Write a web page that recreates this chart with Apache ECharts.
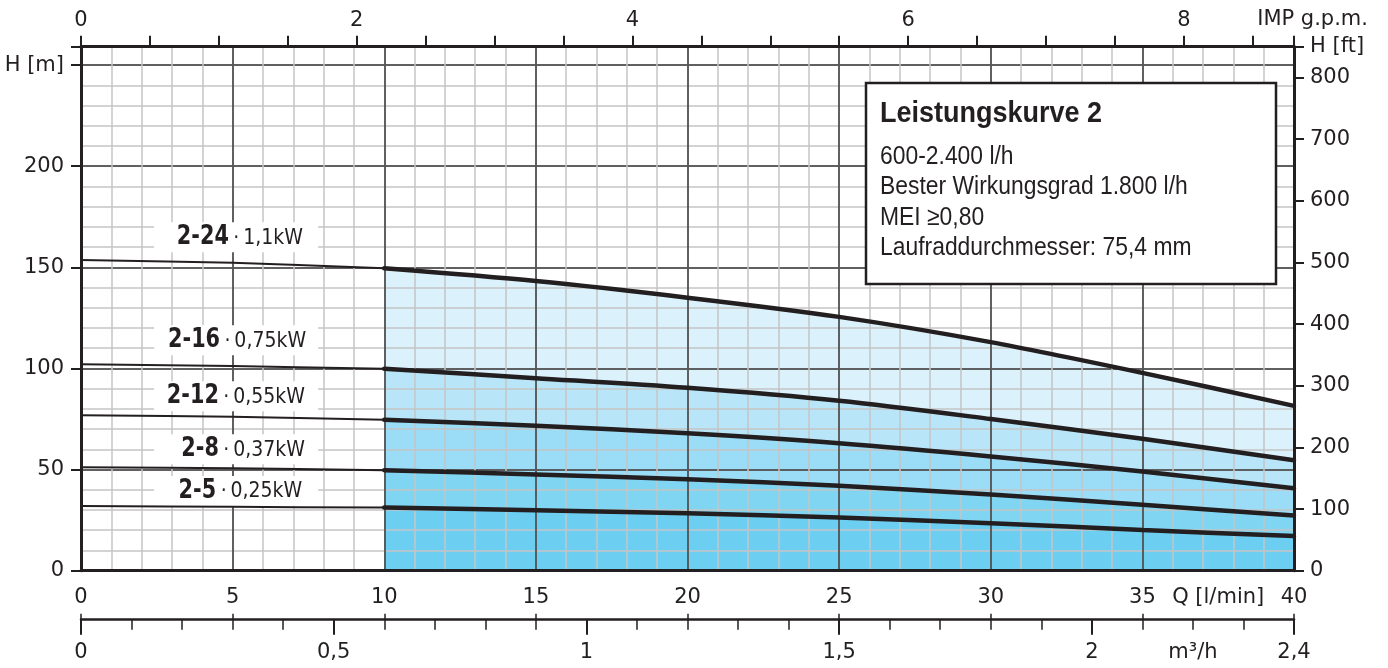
<!DOCTYPE html>
<html>
<head>
<meta charset="utf-8">
<script src="https://cdn.jsdelivr.net/npm/echarts@6/dist/echarts.min.js"></script>
<style>
  html, body { margin: 0; padding: 0; background: #ffffff; }
  #chart { width: 1388px; height: 668px; }
</style>
</head>
<body>
<div id="chart"></div>
<script>
// Flow rates Q [l/min] at which the heads are given
const flowQ = [0, 5, 10, 15, 20, 25, 30, 35, 40];

// Delivery head H [m] for each pump model
const head_2_24 = [153.6, 152.2, 149.5, 143.2, 135.0, 125.5, 113.0, 97.8, 81.5];
const head_2_16 = [102.1, 101.2, 99.8, 95.2, 90.4, 84.0, 75.0, 65.2, 54.6];
const head_2_12 = [76.9, 76.1, 74.6, 71.7, 67.9, 63.0, 56.5, 49.0, 40.8];
const head_2_8  = [51.1, 50.6, 49.7, 47.6, 45.2, 42.0, 37.7, 32.6, 27.3];
const head_2_5  = [32.0, 31.6, 31.2, 29.9, 28.4, 26.3, 23.5, 20.1, 17.1];

const models = ['2-24', '2-16', '2-12', '2-8', '2-5'];
const powers = ['1,1kW', '0,75kW', '0,55kW', '0,37kW', '0,25kW'];

// Working range starts here [l/min]
const workingRangeFrom = 10;

// Axis tick labels
const m3hTickValues = [0, 0.5, 1, 1.5, 2, 2.4];
const m3hTickLabels = ['0', '0,5', '1', '1,5', '2', '2,4'];
const m3hUnitAt = 2.2;
const m3hUnit = 'm³/h';
const qUnit = 'Q [l/min]';
const gpmUnit = 'IMP g.p.m.';
const headUnitM = 'H [m]';
const headUnitFt = 'H [ft]';

// Info box text
const infoTitle = 'Leistungskurve 2';
const infoLines = ['600-2.400 l/h', 'Bester Wirkungsgrad 1.800 l/h', 'MEI \u22650,80', 'Laufraddurchmesser: 75,4 mm'];

// Unit conversions
const M_PER_FT = 0.3048;
const LPM_PER_IMPGPM = 4.54609;
const LPM_PER_M3H = 1000 / 60;

const Q_MAX = 40;
const FT_MAX = 850;
const H_MAX = FT_MAX * M_PER_FT;

const heads = [head_2_24, head_2_16, head_2_12, head_2_8, head_2_5];
const bandColors = ['#dbf1fb', '#b8e5f7', '#9bdcf6', '#80d5f3', '#6ccff2'];

const INK = '#231f20';
const GRID_MINOR = '#c4c4c4';
const GRID_MAJOR = '#3a3a3a';
const AXIS_FONT = 'DejaVu Sans';
const AXIS_FONT_SIZE = 21;

// Where the model captions sit (Q of the separating dot, H of the text centre)
const captionAnchors = [
  { q: 5.14, h: 164.9 },
  { q: 4.85, h: 114.0 },
  { q: 4.81, h: 86.2 },
  { q: 4.81, h: 60.0 },
  { q: 4.72, h: 39.4 }
];
const captionBoxQ = [2.41, 7.82];

const pairs = h => flowQ.map((q, i) => [q, h[i]]);

const series = [];
heads.forEach((h, i) => {
  const work = pairs(h).filter(p => p[0] >= workingRangeFrom);
  series.push({
    type: 'line', name: models[i] + ' area', xAxisIndex: 1, yAxisIndex: 1,
    data: work, smooth: 0.3, symbol: 'none', silent: true,
    lineStyle: { width: 0, opacity: 0 },
    areaStyle: { color: bandColors[i], opacity: 1 },
    z: 2
  });
});
heads.forEach((h, i) => {
  const pts = pairs(h);
  const work = pts.filter(p => p[0] >= workingRangeFrom);
  const lead = pts.filter(p => p[0] <= workingRangeFrom);
  series.push({
    type: 'line', name: models[i] + ' lead', xAxisIndex: 1, yAxisIndex: 1,
    data: lead, smooth: 0.3, symbol: 'none', silent: true,
    lineStyle: { width: 2, color: INK },
    z: 5
  });
  series.push({
    type: 'line', name: models[i], xAxisIndex: 1, yAxisIndex: 1,
    data: work, smooth: 0.3, symbol: 'none', silent: true,
    lineStyle: { width: 4.5, color: INK, cap: 'round' },
    z: 6
  });
});

const labelStyle = { color: INK, fontFamily: AXIS_FONT, fontSize: AXIS_FONT_SIZE };
const near = (a, b) => Math.abs(a - b) < 1e-6;
const line = (show, width) => ({ show: show, onZero: false, lineStyle: { color: INK, width: width || 3 } });

const option = {
  animation: false,
  backgroundColor: '#ffffff',
  grid: { left: 81, right: 94, top: 46.7, bottom: 97.3, containLabel: false },
  xAxis: [
    { // 1 l/min grid
      type: 'value', min: 0, max: Q_MAX, interval: 1, position: 'bottom', z: 3,
      axisLine: line(false), axisTick: { show: false }, axisLabel: { show: false },
      splitLine: { show: true, lineStyle: { color: GRID_MINOR, width: 1.5 } }
    },
    { // Q [l/min]
      type: 'value', min: 0, max: Q_MAX, interval: 5, position: 'bottom', z: 3,
      axisLine: line(true, 3),
      axisTick: { show: false },
      axisLabel: Object.assign({ margin: 16, showMaxLabel: true }, labelStyle),
      splitLine: { show: true, lineStyle: { color: GRID_MAJOR, width: 1.5 } }
    },
    { // IMP g.p.m.
      type: 'value', min: 0, max: Q_MAX / LPM_PER_IMPGPM, interval: 0.5, position: 'top', z: 3,
      axisLine: line(true, 3),
      axisTick: { show: true, length: 11, lineStyle: { color: INK, width: 2 } },
      axisLabel: Object.assign({
        margin: 16,
        formatter: v => (near(v, Math.round(v)) && Math.round(v) % 2 === 0) ? String(Math.round(v)) : ''
      }, labelStyle),
      splitLine: { show: false }
    },
    { // m³/h
      type: 'value', min: 0, max: Q_MAX / LPM_PER_M3H, interval: 0.1, position: 'bottom', offset: 49, z: 3,
      axisLine: line(true, 2.5),
      axisTick: { show: true, length: 10, lineStyle: { color: INK, width: 1.5 } },
      axisLabel: Object.assign({
        margin: 22, showMaxLabel: true, showMinLabel: true,
        formatter: v => {
          const k = m3hTickValues.findIndex(t => near(t, v));
          if (k >= 0) return m3hTickLabels[k];
          if (near(v, m3hUnitAt)) return m3hUnit;
          return '';
        }
      }, labelStyle),
      splitLine: { show: false }
    },
    { // long ticks every 0.5 m³/h
      type: 'value', min: 0, max: Q_MAX / LPM_PER_M3H, interval: 0.5, position: 'bottom', offset: 49, z: 3,
      axisLine: line(false),
      axisTick: { show: true, length: 15, lineStyle: { color: INK, width: 2 } },
      axisLabel: { show: false }, splitLine: { show: false }
    },
    { // l/min marks crossing the m³/h scale
      type: 'value', min: 0, max: Q_MAX, interval: 5, position: 'bottom', offset: 49, z: 3,
      axisLine: line(false),
      axisTick: { show: true, inside: true, length: 6, lineStyle: { color: INK, width: 1.5 } },
      axisLabel: { show: false }, splitLine: { show: false }
    }
  ],
  yAxis: [
    { // 10 m grid
      type: 'value', min: 0, max: H_MAX, interval: 10, position: 'left', z: 3,
      axisLine: line(false), axisTick: { show: false }, axisLabel: { show: false },
      splitLine: { show: true, lineStyle: { color: GRID_MINOR, width: 1.5 } }
    },
    { // H [m]
      type: 'value', min: 0, max: H_MAX, interval: 50, position: 'left', z: 3,
      axisLine: line(true, 3),
      axisTick: { show: true, length: 10, lineStyle: { color: INK, width: 2 } },
      axisLabel: Object.assign({
        margin: 17,
        formatter: v => near(v, 250) ? headUnitM : (v <= 200 ? String(v) : '')
      }, labelStyle),
      splitLine: { show: true, lineStyle: { color: GRID_MAJOR, width: 1.5 } }
    },
    { // H [ft]
      type: 'value', min: 0, max: FT_MAX, interval: 100, position: 'right', z: 3,
      axisLine: line(true, 3),
      axisTick: { show: true, length: 10, lineStyle: { color: INK, width: 2 } },
      axisLabel: Object.assign({
        margin: 16, showMaxLabel: true,
        formatter: v => near(v, FT_MAX) ? headUnitFt : String(v)
      }, labelStyle),
      splitLine: { show: false }
    }
  ],
  series: series
};

const chart = echarts.init(document.getElementById('chart'), null, { renderer: 'canvas' });
chart.setOption(option);

const toPx = (q, h) => chart.convertToPixel({ xAxisIndex: 1, yAxisIndex: 1 }, [q, h]);

const graphics = [];

// model captions with white backing
captionAnchors.forEach((a, i) => {
  const [dx, cy] = toPx(a.q, a.h);
  const x0 = toPx(captionBoxQ[0], 0)[0];
  const x1 = toPx(captionBoxQ[1], 0)[0];
  graphics.push({
    type: 'rect', z: 4, silent: true,
    shape: { x: x0, y: cy - 15, width: x1 - x0, height: 30 },
    style: { fill: '#ffffff' }
  });
  graphics.push({
    type: 'text', z: 7, silent: true, x: dx - 8, y: cy, scaleX: 0.8,
    style: { text: models[i], fill: INK, fontFamily: AXIS_FONT, fontWeight: 'bold', fontSize: 26,
             align: 'right', verticalAlign: 'middle' }
  });
  graphics.push({
    type: 'text', z: 7, silent: true, x: dx - 3.5, y: cy + 1, scaleX: 0.9,
    style: { text: '\u00b7\u2009' + powers[i], fill: INK, fontFamily: AXIS_FONT, fontSize: 21,
             align: 'left', verticalAlign: 'middle' }
  });
});

// axis unit captions
const [qx, qy] = toPx(37.5, 0);
graphics.push({
  type: 'text', z: 7, silent: true, x: qx, y: qy + 27,
  style: { text: qUnit, fill: INK, fontFamily: AXIS_FONT, fontSize: AXIS_FONT_SIZE, align: 'center', verticalAlign: 'middle' }
});
const rightEdge = toPx(Q_MAX, 0)[0];
graphics.push({
  type: 'text', z: 7, silent: true, x: rightEdge + 74, y: 20,
  style: { text: gpmUnit, fill: INK, fontFamily: AXIS_FONT, fontSize: AXIS_FONT_SIZE, align: 'right', verticalAlign: 'middle' }
});

// info box
graphics.push({
  type: 'rect', z: 10, silent: true,
  shape: { x: 866, y: 83, width: 410, height: 201 },
  style: { fill: '#ffffff', stroke: INK, lineWidth: 2.5 }
});
graphics.push({
  type: 'text', z: 11, silent: true, x: 880, y: 114, scaleX: 0.9,
  style: { text: infoTitle, fill: INK, fontFamily: 'Liberation Sans', fontWeight: 'bold', fontSize: 30,
           align: 'left', verticalAlign: 'middle' }
});
infoLines.forEach((t, i) => {
  graphics.push({
    type: 'text', z: 11, silent: true, x: 880, y: 157 + i * 30.2, scaleX: 0.88,
    style: { text: t, fill: INK, fontFamily: 'Liberation Sans', fontSize: 26,
             align: 'left', verticalAlign: 'middle' }
  });
});

chart.setOption({ graphic: { elements: graphics } });
</script>
</body>
</html>
